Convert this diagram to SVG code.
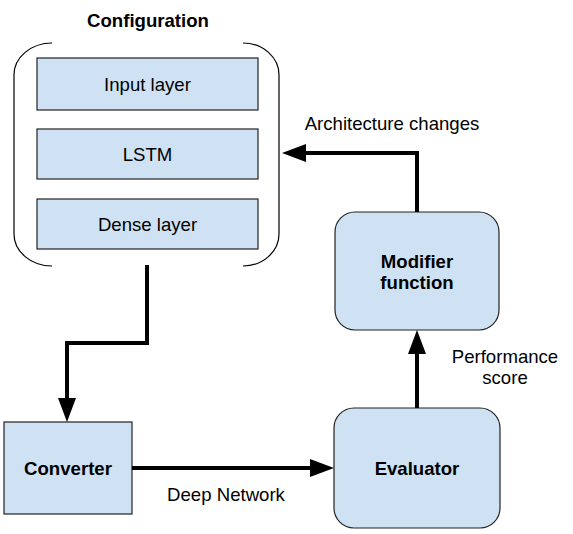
<svg xmlns="http://www.w3.org/2000/svg" width="573" height="534" viewBox="0 0 573 534">
<style>
text{font-family:"Liberation Sans",Arial,sans-serif;font-size:18.6px;fill:#000;text-anchor:middle}
.b{font-weight:bold}
.box{fill:#cfe2f3;stroke:#222;stroke-width:1.2}
.br{fill:none;stroke:#000;stroke-width:1.2}
.c{fill:none;stroke:#000;stroke-width:4}
</style>
<defs>
<marker id="ah" markerUnits="userSpaceOnUse" markerWidth="24" markerHeight="18" refX="0" refY="9" orient="auto">
<path d="M0,0 L24,9 L0,18 z" fill="#000"/>
</marker>
</defs>
<rect width="573" height="534" fill="#fff"/>
<g id="configuration">
<text class="b" x="148" y="27">Configuration</text>
<path class="br" d="M52,43 A38,32 0 0 0 14,75 L14,234 A38,32 0 0 0 52,266"/>
<path class="br" d="M243,43 A36,32 0 0 1 279,75 L279,234 A36,32 0 0 1 243,266"/>
</g>
<g id="input-layer">
<rect class="box" x="37" y="58" width="221" height="52"/>
<text x="147.5" y="90.5">Input layer</text>
</g>
<g id="lstm">
<rect class="box" x="37" y="129" width="221" height="50"/>
<text x="147.5" y="160.5">LSTM</text>
</g>
<g id="dense-layer">
<rect class="box" x="37" y="199" width="221" height="50"/>
<text x="147.5" y="230.5">Dense layer</text>
</g>
<g id="modifier">
<rect class="box" x="335" y="212" width="164" height="118" rx="20"/>
<text class="b" x="417" y="268">Modifier</text>
<text class="b" x="417" y="289">function</text>
</g>
<g id="converter">
<rect class="box" x="4" y="422" width="128" height="92"/>
<text class="b" x="68" y="475">Converter</text>
</g>
<g id="evaluator">
<rect class="box" x="334" y="408" width="166" height="120" rx="20"/>
<text class="b" x="417" y="475">Evaluator</text>
</g>
<g id="connectors">
<path class="c" d="M147,265 L147,343 L67,343 L67,398" marker-end="url(#ah)"/>
<path class="c" d="M132,468 L310,468" marker-end="url(#ah)"/>
<path class="c" d="M417,408 L417,354" marker-end="url(#ah)"/>
<path class="c" d="M417,212 L417,153 L306,153" marker-end="url(#ah)"/>
<text x="392" y="130">Architecture changes</text>
<text x="505" y="363">Performance</text>
<text x="505" y="384">score</text>
<text x="226" y="501">Deep Network</text>
</g>
</svg>
